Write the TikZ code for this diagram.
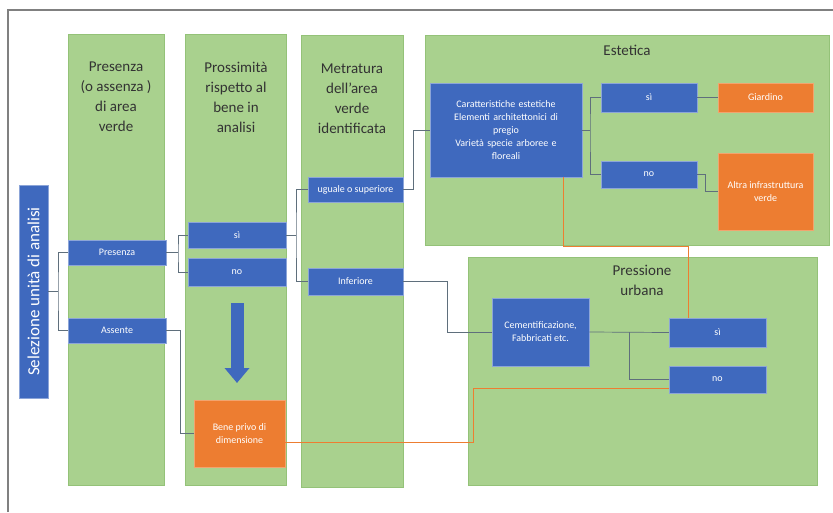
\documentclass[tikz,border=0pt]{standalone}
\usepackage{fontspec}
\setmainfont{Carlito}
\usetikzlibrary{arrows.meta}

\definecolor{areagreen}{HTML}{A9D18E}
\definecolor{edgegreen}{HTML}{94C278}
\definecolor{boxblue}{HTML}{3F69BE}
\definecolor{boxorange}{HTML}{ED7D31}
\definecolor{linkgray}{HTML}{5F6F7C}

\begin{document}
\begin{tikzpicture}[x=1pt,y=-1pt,
    area/.style={draw=edgegreen, fill=areagreen, line width=0.6pt, inner sep=0pt},
    title/.style={align=center, text=black!80, font=\fontsize{15}{20}\selectfont},
    bluebox/.style={draw=boxblue!60!white, fill=boxblue, line width=0.5pt, text=white,
        align=center, inner sep=1pt, font=\fontsize{10}{13}\selectfont},
    orangebox/.style={bluebox, draw=boxorange!70!white, fill=boxorange},
    link/.style={draw=linkgray, line width=0.7pt},
    olink/.style={draw=boxorange, line width=0.9pt}]
    \useasboundingbox (0,0) rectangle (833,512);

    % Frame lines
    \draw[gray, line width=1.2pt] (8,512) -- (8,10) -- (833,10);

    % Green areas
    \node[area, minimum width=96, minimum height=451] (c1) at (116,259.5) {};
    \node[area, minimum width=101, minimum height=451] (c2) at (235.5,259.5) {};
    \node[area, minimum width=102, minimum height=452] (c3) at (352,261) {};
    \node[area, minimum width=404, minimum height=210] (est) at (627,140) {};
    \node[area, minimum width=349, minimum height=228] (pre) at (642.5,371) {};

    % Titles
    \node[title] (t1) at (116,97) {Presenza\\(o assenza )\\di area\\verde};
    \node[title] (t2) at (236,97) {Prossimità\\rispetto al\\bene in\\analisi};
    \node[title] (t3) at (352,98.5) {Metratura\\dell'area\\verde\\identificata};
    \node[title] (t4) at (627,50) {Estetica};
    \node[title] (t5) at (642,280) {Pressione\\urbana};

    % Boxes
    \node[bluebox, minimum width=213, minimum height=29, rotate=90,
        font=\fontsize{17}{20}\selectfont] (sel) at (33.5,291.5) {Selezione unità di analisi};
    \node[bluebox, minimum width=98, minimum height=25] (pres) at (117,252.5) {Presenza};
    \node[bluebox, minimum width=98, minimum height=25] (ass) at (117,330.5) {Assente};
    \node[bluebox, minimum width=98, minimum height=26] (si2) at (237,235) {sì};
    \node[bluebox, minimum width=98, minimum height=28] (no2) at (237,272.5) {no};
    \node[orangebox, minimum width=91, minimum height=67] (bene) at (239.5,433.5) {Bene privo di\\dimensione};
    \node[bluebox, minimum width=95, minimum height=25] (ugu) at (355.5,189.5) {uguale o superiore};
    \node[bluebox, minimum width=95, minimum height=27] (inf) at (355.5,281.5) {Inferiore};
    \node[bluebox, minimum width=152, minimum height=94, text width=146] (car) at (506,130)
        {Caratteristiche estetiche\\Elementi architettonici di\\pregio\\Varietà specie arboree e\\floreali};
    \node[bluebox, minimum width=96, minimum height=29] (si3) at (649,97.5) {sì};
    \node[bluebox, minimum width=96, minimum height=27] (no3) at (649,174.5) {no};
    \node[orangebox, minimum width=95, minimum height=29] (gia) at (765.5,97.5) {Giardino};
    \node[orangebox, minimum width=95, minimum height=77] (alt) at (765.5,191.5) {Altra infrastruttura\\verde};
    \node[bluebox, minimum width=97, minimum height=68] (cem) at (540.5,332) {Cementificazione,\\Fabbricati etc.};
    \node[bluebox, minimum width=97, minimum height=29] (si4) at (717.5,332.5) {sì};
    \node[bluebox, minimum width=97, minimum height=27] (no4) at (717.5,379.5) {no};

    % Big arrow
    \draw[boxblue, line width=13pt, -{Triangle[width=24pt,length=15pt]}] (237,303) -- (237,383);

    % Tree links
    \coordinate (b1) at (58,291.5);
    \coordinate (b2) at (178,252.5);
    \coordinate (b3) at (296,235);
    \coordinate (b4) at (590,130);
    \coordinate (b5) at (629,332);
    \draw[link] (sel.south) -- (b1);
    \draw[link] (pres.west) -| (b1) |- (ass.west);
    \draw[link] (pres.east) -- (b2);
    \draw[link] (si2.west) -| (b2) |- (no2.west);
    \draw[link] (ass.east) -- ++(14,0) |- (bene.west);
    \draw[link] (si2.east) -- (b3);
    \draw[link] (ugu.west) -| (b3) |- (inf.west);
    \draw[link] (ugu.east) -- ++(10,0) |- (car.west);
    \draw[link] (inf.east) -- ++(44,0) |- (cem.west);
    \draw[link] (car.east) -- (b4);
    \draw[link] (si3.west) -| (b4) |- (no3.west);
    \draw[link] (si3.east) -- (gia.west);
    \draw[link] (no3.east) -- ++(8,0) |- (alt.west);
    \draw[link] (cem.east) -- (si4.west);
    \draw[link] (b5) |- (no4.west);

    % Orange links
    \draw[olink] ([yshift=-9pt]bene.east) -- ++(188,0) |- ([yshift=-9pt]no4.west);
    \draw[olink] ([xshift=-29pt]si4.north) -- ++(0,-71) -| ([xshift=57pt]car.south);
\end{tikzpicture}
\end{document}
